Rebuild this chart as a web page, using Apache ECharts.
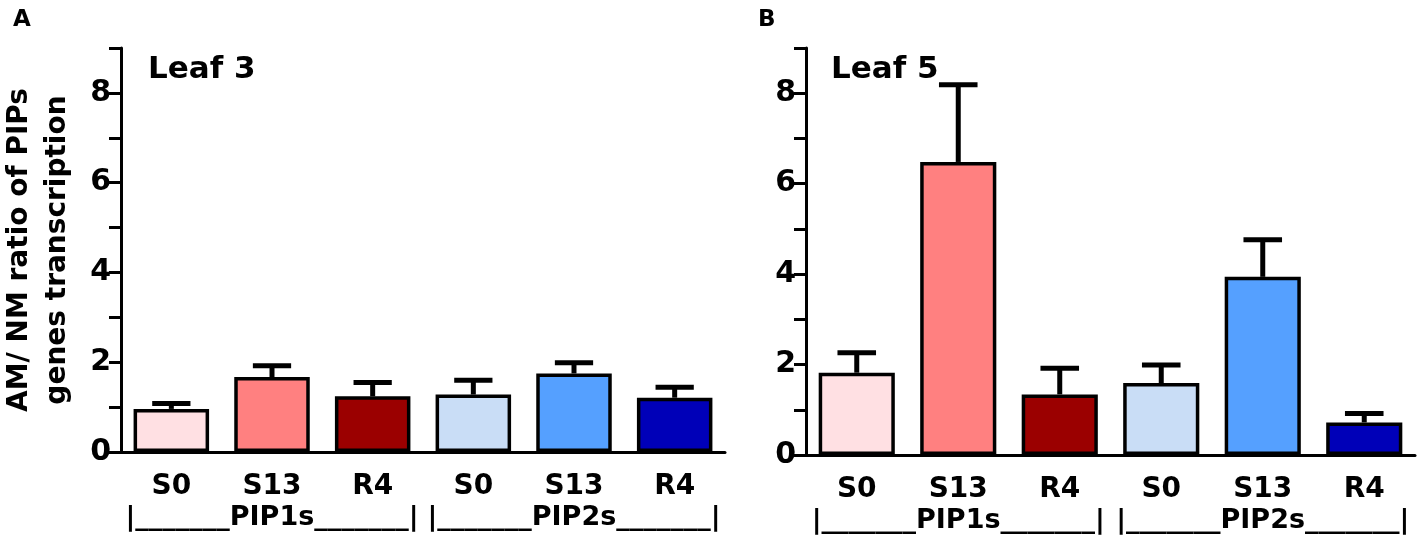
<!DOCTYPE html>
<html>
<head>
<meta charset="utf-8">
<script src="https://cdn.jsdelivr.net/npm/echarts@6/dist/echarts.min.js"></script>
<style>
  html, body { margin: 0; padding: 0; background: #fff; }
  #chart { width: 1417px; height: 538px; }
</style>
</head>
<body>
<div id="chart"></div>
<script>
// categories (same for both panels)
var categories = ['S0', 'S13', 'R4', 'S0', 'S13', 'R4'];
var groups = ['|_______PIP1s_______|', '|_______PIP2s_______|'];

// Leaf 3: mean + upper error
var leaf3Mean = [0.96, 1.67, 1.24, 1.28, 1.75, 1.21];
var leaf3Err = [0.12, 0.25, 0.31, 0.32, 0.24, 0.23];

// Leaf 5: mean + upper error
var leaf5Mean = [1.82, 6.48, 1.34, 1.59, 3.94, 0.72];
var leaf5Err = [0.44, 1.71, 0.58, 0.40, 0.82, 0.20];

var barColors = ['#ffe0e3', '#ff8080', '#9b0000', '#c9ddf6', '#55a0ff', '#0000b8'];

var yMin = 0, yMax = 9;

var FONT = 'DejaVu Sans';

function barData(means) {
	return means.map(function(v, i) {
		return { value: v, itemStyle: { color: barColors[i] } };
	});
}

function errData(means, errs) {
	return means.map(function(v, i) {
		return [i, v, errs[i]];
	});
}

// 误差线
function renderError(params, api) {
	var x = api.value(0);
	var base = api.coord([x, api.value(1)]);
	var top = api.coord([x, api.value(1) + api.value(2)]);
	var half = api.size([1, 0])[0] * 0.19;
	return {
		type: 'group',
		children: [{
			type: 'line',
			shape: { x1: base[0], y1: base[1], x2: top[0], y2: top[1] },
			style: { stroke: '#000', lineWidth: 5 }
		}, {
			type: 'line',
			shape: { x1: top[0] - half, y1: top[1], x2: top[0] + half, y2: top[1] },
			style: { stroke: '#000', lineWidth: 5 }
		}]
	};
}

function xAxes(gridIndex) {
	return [{
		type: 'category',
		gridIndex: gridIndex,
		position: 'bottom',
		data: categories,
		axisLine: { lineStyle: { color: '#000', width: 3 } },
		axisTick: { alignWithLabel: true, length: 12, lineStyle: { color: '#000', width: 3 } },
		axisLabel: { interval: 0, color: '#000', fontFamily: FONT, fontWeight: 'bold', fontSize: 28, margin: 21 }
	}, {
		type: 'category',
		gridIndex: gridIndex,
		position: 'bottom',
		data: groups,
		axisLine: { show: false },
		axisTick: { show: false },
		axisLabel: { interval: 0, color: '#000', fontFamily: FONT, fontWeight: 'bold', fontSize: 27, margin: 52 }
	}];
}

function yAxis(gridIndex, name) {
	return {
		type: 'value',
		gridIndex: gridIndex,
		min: yMin,
		max: yMax,
		interval: 1,
		name: name,
		nameLocation: 'middle',
		nameRotate: 90,
		nameGap: 44,
		nameTextStyle: { color: '#000', fontFamily: FONT, fontWeight: 'bold', fontSize: 28, lineHeight: 38 },
		splitLine: { show: false },
		axisLine: { show: true, lineStyle: { color: '#000', width: 3 } },
		axisTick: { show: true, length: 12, lineStyle: { color: '#000', width: 3 } },
		axisLabel: {
			color: '#000', fontFamily: FONT, fontWeight: 'bold', fontSize: 30, margin: 10,
			formatter: function(v) { return v % 2 === 0 ? v : ''; }
		}
	};
}

var chart = echarts.init(document.getElementById('chart'));
var option = {
	animation: false,
	backgroundColor: '#fff',
	title: [
		{ text: 'A', left: 8, top: 4, textStyle: { fontFamily: FONT, fontWeight: 'bold', fontSize: 23, color: '#000' } },
		{ text: 'B', left: 753, top: 4, textStyle: { fontFamily: FONT, fontWeight: 'bold', fontSize: 23, color: '#000' } },
		{ text: 'Leaf 3', left: 143, top: 49, textStyle: { fontFamily: FONT, fontWeight: 'bold', fontSize: 31, color: '#000' } },
		{ text: 'Leaf 5', left: 826, top: 49, textStyle: { fontFamily: FONT, fontWeight: 'bold', fontSize: 31, color: '#000' } }
	],
	grid: [
		{ left: 120, right: 692, top: 48, bottom: 86 },
		{ left: 806, right: 2, top: 48, bottom: 83 }
	],
	xAxis: xAxes(0).concat(xAxes(1)),
	yAxis: [
		yAxis(0, 'AM/ NM ratio of PIPs\ngenes transcription'),
		yAxis(1, '')
	],
	series: [{
		type: 'bar',
		xAxisIndex: 0,
		yAxisIndex: 0,
		barWidth: '75%',
		itemStyle: { borderColor: '#000', borderWidth: 3.5 },
		data: barData(leaf3Mean)
	}, {
		type: 'custom',
		xAxisIndex: 0,
		yAxisIndex: 0,
		renderItem: renderError,
		data: errData(leaf3Mean, leaf3Err),
		z: 1
	}, {
		type: 'bar',
		xAxisIndex: 2,
		yAxisIndex: 1,
		barWidth: '75%',
		itemStyle: { borderColor: '#000', borderWidth: 3.5 },
		data: barData(leaf5Mean)
	}, {
		type: 'custom',
		xAxisIndex: 2,
		yAxisIndex: 1,
		renderItem: renderError,
		data: errData(leaf5Mean, leaf5Err),
		z: 1
	}]
};
chart.setOption(option);
</script>
</body>
</html>
